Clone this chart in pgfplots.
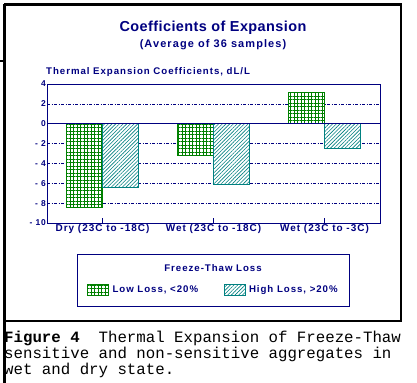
\documentclass[border=0pt]{standalone}
\usepackage{fontspec}
\setmainfont{Liberation Sans}
\usepackage{pgfplots}
\pgfplotsset{compat=1.18}
\usetikzlibrary{patterns,patterns.meta}
\definecolor{navyc}{RGB}{0,0,128}
\definecolor{greenc}{RGB}{0,128,0}
\definecolor{tealc}{RGB}{0,128,128}
\newfontfamily\chartfont[LetterSpace=10]{Liberation Sans}
\newfontfamily\titlefont[LetterSpace=3]{Liberation Sans}
\newfontfamily\capfont{Liberation Mono}
\begin{document}
\begin{tikzpicture}[x=1bp,y=1bp]
\useasboundingbox (0,0) rectangle (417,383);
% frame
\draw[line width=2.6bp] (4.5,378.5) -- (401,378.5) -- (401,62) -- (4.5,62);
\draw[line width=3bp] (4.5,378.5) -- (4.5,0);
\draw[line width=1.5bp] (0,322) -- (4.5,322);
% titles
\node[font=\titlefont\bfseries\fontsize{14.5}{16}\selectfont, text=navyc] at (213,355) {Coefficients of Expansion};
\node[font=\chartfont\bfseries\fontsize{11}{13}\selectfont, text=navyc] at (213,338) {(Average of 36 samples)};
\node[anchor=west, inner sep=0pt, font=\chartfont\bfseries\fontsize{9.7}{11}\selectfont, text=navyc] at (46,311) {Thermal Expansion Coefficients, dL/L};
\begin{axis}[
  at={(47bp,160bp)}, anchor=south west,
  width=333bp, height=139bp, scale only axis,
  xmin=-0.5, xmax=2.5, ymin=-10, ymax=4,
  ybar, bar width=36bp,
  axis line style={navyc, line width=0.9bp},
  xtick={0,1,2},
  xticklabels={Dry (23C to -18C), Wet (23C to -18C), Wet (23C to -3C)},
  ytick={-10,-8,...,4},
  yticklabels={- 10,- 8,- 6,- 4,- 2,0,2,4},
  xtick pos=left,
  tick align=inside, major tick length=5bp,
  y tick style={draw=none},
  x tick style={navyc, line width=0.9bp},
  ymajorgrids,
  major grid style={navyc, line width=0.7bp, dash pattern=on 3bp off 1.5bp on 1bp off 1.5bp},
  yticklabel style={font=\chartfont\bfseries\fontsize{8.5}{10}\selectfont, text=navyc, inner sep=1bp},
  xticklabel style={font=\chartfont\bfseries\fontsize{10}{12}\selectfont, text=navyc, inner sep=1bp},
  legend columns=2,
  legend style={at={(0.12,-0.482)}, anchor=west, draw=none, fill=none,
    font=\chartfont\bfseries\fontsize{9.7}{11}\selectfont, text=navyc,
    /tikz/every even column/.append style={column sep=22bp},
    nodes={inner xsep=3.5bp}, inner sep=0pt},
  legend image code/.code={\draw[#1] (0bp,-5.5bp) rectangle (21bp,5.5bp);},
]
\addplot[draw=greenc, line width=0.9bp, fill=white,
  postaction={pattern={Hatch[distance=3.5bp, line width=0.8bp]}, pattern color=greenc}, bar shift=-18bp]
  coordinates {(0,-8.4) (1,-3.2) (2,3.1)};
\addplot[draw=tealc, line width=0.9bp, fill=white,
  postaction={pattern={Lines[angle=45, distance=2.6bp, line width=0.6bp]}, pattern color=tealc}, bar shift=18bp]
  coordinates {(0,-6.4) (1,-6.1) (2,-2.45)};
\legend{{Low Loss, <20\%},{High Loss, >20\%}}
\draw[navyc, line width=0.9bp] (axis cs:-0.5,0) -- (axis cs:2.5,0);
\end{axis}
% legend box
\draw[navyc, line width=0.9bp] (77,129) rectangle (349,77);
\node[font=\chartfont\bfseries\fontsize{9.7}{11}\selectfont, text=navyc] at (213,115) {Freeze-Thaw Loss};
% caption
\node[anchor=base west, inner sep=0pt, font=\capfont\fontsize{15.8}{16}\selectfont] at (4,41) {\textbf{Figure 4}\ \ Thermal Expansion of Freeze-Thaw};
\node[anchor=base west, inner sep=0pt, font=\capfont\fontsize{15.8}{16}\selectfont] at (4,25) {sensitive and non-sensitive aggregates in};
\node[anchor=base west, inner sep=0pt, font=\capfont\fontsize{15.8}{16}\selectfont] at (4,9) {wet and dry state.};
\end{tikzpicture}
\end{document}
